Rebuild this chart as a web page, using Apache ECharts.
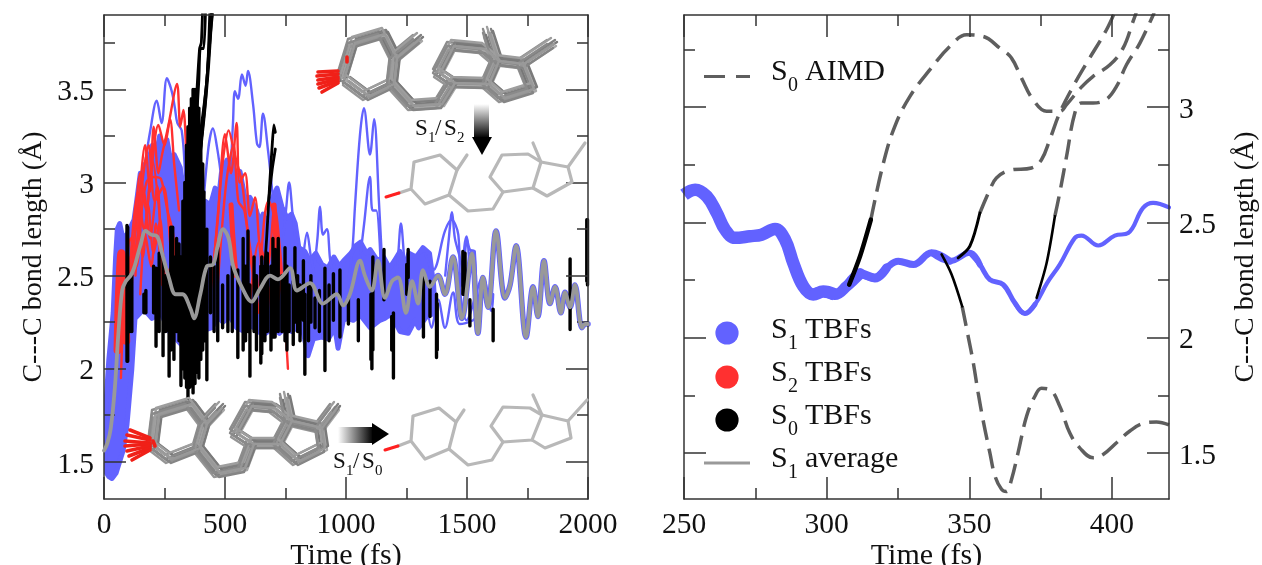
<!DOCTYPE html>
<html><head><meta charset="utf-8">
<style>html,body{margin:0;padding:0;background:#fff}#c{width:1262px;height:565px}</style>
<script src="https://cdn.jsdelivr.net/npm/echarts@6/dist/echarts.min.js"></script>
</head><body><div id="c"></div>
<script>
// ---------- LEFT PANEL DATA (time fs, C--C bond length Å) ----------
const leftXTicks=[0,500,1000,1500,2000];
const leftXMinor=[250,750,1250,1750];
const leftYTicks=[1.5,2,2.5,3,3.5];
const leftYMinor=[1.75,2.25,2.75,3.25,3.75];
const s1BandUpper=[[2,1.5],[10,1.85],[20,2.05],[38,2.3],[48,2.6],[55,2.75],[65,2.78],[78,2.7],[95,2.72],[124,2.8],[135,2.9],[150,3.05],[160,3.0],[170,3.1],[185,3.12],[200,3.2],[215,3.14],[230,3.25],[245,3.16],[260,3.23],[275,3.12],[290,3.15],[315,3.08],[330,2.95],[343,2.9],[360,2.82],[380,2.85],[400,2.8],[417,2.9],[440,2.88],[459,2.97],[475,2.93],[485,3.05],[508,3.12],[520,3.04],[530,3.12],[548,2.98],[562,3.06],[585,2.9],[603,2.92],[630,2.85],[645,2.78],[657,2.83],[675,2.76],[690,2.9],[715,2.97],[735,2.87],[756,2.81],[775,2.83],[790,2.78],[805,2.65],[830,2.63],[850,2.58],[875,2.62],[900,2.56],[925,2.54],[950,2.6],[972,2.55],[990,2.58],[1020,2.62],[1040,2.66],[1060,2.68],[1085,2.62],[1100,2.64],[1130,2.58],[1155,2.6],[1180,2.54],[1200,2.58],[1223,2.63],[1245,2.56],[1260,2.62],[1290,2.6],[1318,2.65],[1345,2.62],[1362,2.45],[1368,2.3]];
const s1BandLower=[[1333,2.28],[1300,2.22],[1285,2.26],[1257,2.19],[1223,2.2],[1200,2.26],[1182,2.29],[1160,2.27],[1140,2.26],[1100,2.22],[1058,2.29],[1030,2.26],[1004,2.27],[989,2.26],[967,2.11],[954,2.22],[927,2.16],[899,2.17],[865,2.16],[843,2.07],[824,2.19],[797,2.22],[775,2.2],[756,2.23],[725,2.19],[700,2.22],[657,2.18],[610,2.23],[580,2.2],[548,2.22],[520,2.28],[492,2.25],[470,2.28],[446,2.22],[400,2.2],[340,2.1],[270,2.2],[235,2.3],[198,2.27],[165,2.32],[128,2.27],[115,2],[95,1.7],[79,1.56],[50,1.44],[33,1.41],[20,1.42],[5,1.45]];
const s1Traces=[
 [[150,2.9],[170,3.1],[190,3.27],[218,3.44],[238,3.32],[260,3.56],[280,3.49],[293,3.4],[303,3.32],[321,3.28],[335,3.05],[350,2.7]],
 [[500,2.7],[520,3],[533,3.32],[541,3.49],[554,3.45],[570,3.58],[585,3.52],[595,3.6],[616,3.42],[632,3.21],[642,3.19],[657,3.37],[678,3.17],[694,2.97],[715,2.7]],
 [[400,2.7],[430,3.17],[450,3.29],[467,3.19],[487,3],[510,2.7]],
 [[740,2.7],[752,2.85],[765,3],[780,2.82],[795,2.65]],
 [[870,2.55],[882,2.7],[893,2.87],[905,2.72],[921,2.75],[935,2.58],[950,2.5]],
 [[820,2.55],[839,2.73],[855,2.6],[870,2.5]],
 [[1000,2.4],[1025,2.62],[1037,2.87],[1058,3.26],[1074,3.4],[1099,3.15],[1116,3.34],[1136,2.9],[1150,2.55]],
 [[1050,2.5],[1075,2.78],[1099,3.03],[1110,2.85],[1125,2.85],[1145,2.5]],
 [[1205,2.45],[1215,2.6],[1227,2.78],[1240,2.6],[1250,2.45]],
 [[1410,2.5],[1425,2.7],[1438,2.84],[1450,2.7],[1470,2.6],[1485,2.5]],
 [[1490,2.6],[1500,2.7],[1510,2.55]],
 [[1326,2.62],[1360,2.53],[1409,2.74],[1436,2.8],[1464,2.72],[1473,2.44],[1498,2.71],[1512,2.64],[1532,2.63],[1540,2.19]],
 [[1326,2.45],[1354,2.22],[1381,2.37],[1409,2.22],[1443,2.41],[1470,2.24],[1525,2.26],[1545,2.3]],
 [[1464,2.51],[1498,2.26],[1566,2.49],[1601,2.31],[1608,2.4]]
];
const s2Traces=[
 [[60,2.1],[90,2.5],[120,2.65],[140,2.85],[170,3.2],[190,2.95],[205,3.3],[225,3.05],[240,3.15],[265,3.3],[302,3.53],[315,3.3],[328,3.39],[345,3.05],[365,2.85]],
 [[100,2.4],[140,2.95],[165,2.75],[190,3],[225,3.31],[250,3.2],[273,3.34],[290,3.1],[310,2.85]],
 [[110,2.5],[145,2.75],[175,3],[205,3.03],[235,3.02],[262,2.85],[285,2.73],[300,2.45]],
 [[70,1.95],[85,2.4],[110,2.7],[135,2.55],[165,2.95],[190,2.7],[220,2.98],[240,2.6],[270,2.35]],
 [[90,2.2],[120,2.6],[150,3.05],[175,2.85],[200,3.12],[228,2.85],[250,2.45],[265,2.3]],
 [[130,2.5],[150,2.9],[185,3.2],[210,2.9],[245,2.98],[275,2.65],[295,2.35]],
 [[115,2.45],[135,2.78],[160,2.6],[182,2.88],[205,2.62],[232,2.8],[255,2.5],[280,2.55],[300,2.3]],
 [[150,2.4],[170,2.72],[195,2.55],[215,2.78],[240,2.45]],
 [[440,2.4],[470,2.8],[500,3.26],[525,3.05],[548,3.32],[560,3],[583,3.05],[603,2.82],[624,2.92],[640,2.7],[665,2.35]],
 [[450,2.5],[490,3.1],[515,3.28],[540,3.15],[570,3],[590,2.78],[620,2.5],[640,2.3]],
 [[470,2.45],[505,3],[535,3.2],[555,2.9],[580,2.85],[610,2.55],[630,2.35]],
 [[640,2.4],[662,2.8],[680,2.9],[698,2.85],[720,2.6],[745,2.3],[760,2]],
 [[600,2.3],[640,2.68],[675,2.55],[705,2.87],[730,2.6],[748,2.25]],
 [[670,2.2],[690,2.45],[710,2.3],[730,2.45],[750,2.2]]
];
const s2Thick=[[[56,2.1],[62,2.4],[72,2.62],[84,2.4],[92,2.15]],[[525,2.88],[532,2.72],[545,2.5]],[[703,2.88],[710,2.7],[725,2.5]]];
const s0SpikeT=[95,98,107,115,165,173,205,215,228,244,255,269,276,280,284,289,300,310,318,326,334,341,347,354,361,368,376,384,392,400,408,413,425,440,455,470,490,512,530,553,575,585,595,603,620,630,648,652,665,675,690,698,707,720,735,748,756,765,782,789,800,810,824,830,845,855,872,890,913,930,948,975,1010,1051,1103,1107,1111,1157,1189,1196,1251,1257,1320,1347,1374,1377,1483,1492,1512,1608,1926,1995,1998];
const s0SpikeLow=[2.04,2.04,2.2,2.2,2.3,2.3,2.3,2.12,2.2,2.07,2.2,1.96,2.1,2.15,2.15,2.05,2.2,2.15,1.91,2.0,1.95,1.9,1.84,1.9,1.93,1.87,1.92,1.98,1.95,2.05,2.1,2.15,1.94,2.3,2.2,2.15,2.22,2.2,2.2,2.06,2.1,2.15,2.2,1.96,2.2,2.1,2.03,2.08,2.15,2.2,2.1,2.17,2.17,2.2,2.2,2.15,2.1,2.2,2.13,2.25,2.2,2.15,2.26,1.97,2.15,2.25,2.22,2.2,1.99,2.15,2.26,2.17,2.24,2.15,2.05,2.0,2.1,2.37,2.1,1.95,2.4,2.49,2.17,2.28,2.06,2.1,2.4,2.4,2.23,2.15,2.21,2.47,2.45];
const s0SpikeHigh=[2.77,2.76,2.5,2.5,2.4,2.42,2.55,2.54,2.62,2.6,2.5,2.5,2.76,2.76,2.76,2.6,2.7,2.67,2.6,2.9,3,3.2,3.3,3.4,3.45,3.5,3.5,3.45,3.4,3.3,3.1,2.95,2.75,2.6,2.55,2.65,2.45,2.5,2.55,2.53,2.7,2.55,2.74,2.45,2.6,2.5,2.55,2.6,2.55,2.62,2.55,2.7,2.64,2.7,2.5,2.65,2.55,2.45,2.47,2.65,2.5,2.45,2.58,2.4,2.45,2.5,2.38,2.42,2.54,2.45,2.51,2.53,2.38,2.37,2.4,2.4,2.6,2.64,2.28,2.3,2.56,2.64,2.5,2.47,2.4,2.35,2.63,2.62,2.37,2.32,2.59,2.8,2.8];
const s0Rising=[
 [[330,2.3],[350,2.7],[365,3],[380,3.4],[395,3.72],[402,3.75],[408,3.95]],
 [[340,2.3],[358,2.8],[378,3.25],[392,3.55],[398,3.72],[412,3.72],[420,3.95]],
 [[350,2.4],[370,2.8],[392,3.2],[412,3.4],[425,3.55],[440,3.8],[452,3.95]],
 [[355,2.4],[375,2.8],[400,3.2],[420,3.45],[430,3.65],[445,3.95]],
 [[360,2.5],[385,2.95],[410,3.35],[428,3.6],[438,3.95]],
 [[365,2.6],[390,3.05],[416,3.38],[432,3.62],[448,3.95]],
 [[657,2.4],[672,2.7],[685,3],[695,3.2],[702,3.31],[708,3.27]],
 [[680,2.9],[695,3.07],[708,3.18]]
];
const s1Average=[[0,1.56],[14,1.6],[28,1.68],[45,1.9],[60,2.2],[75,2.42],[90,2.47],[110,2.5],[124,2.54],[152,2.67],[172,2.74],[195,2.72],[220,2.71],[240,2.62],[268,2.49],[296,2.4],[324,2.4],[358,2.32],[372,2.27],[398,2.4],[425,2.55],[451,2.56],[470,2.66],[492,2.75],[515,2.7],[534,2.55],[569,2.44],[610,2.36],[645,2.43],[686,2.5],[719,2.48],[769,2.54],[797,2.42],[851,2.46],[905,2.35],[962,2.4],[988,2.34],[1016,2.4],[1058,2.58],[1078,2.5],[1107,2.42],[1132,2.58],[1161,2.38],[1190,2.47],[1215,2.49],[1248,2.3],[1273,2.47],[1298,2.35],[1318,2.53],[1347,2.44],[1380,2.5],[1409,2.4],[1442,2.6],[1479,2.27],[1520,2.62],[1545,2.19],[1566,2.49],[1587,2.33],[1620,2.74],[1657,2.38],[1678,2.45],[1703,2.66],[1744,2.17],[1773,2.44],[1793,2.28],[1818,2.58],[1843,2.35],[1864,2.44],[1888,2.3],[1905,2.41],[1926,2.33],[1946,2.45],[1975,2.22],[1988,2.24],[2000,2.24]];

// ---------- RIGHT PANEL DATA ----------
const rightXTicks=[250,300,350,400];
const rightXMinor=[275,325,375];
const rightYTicks=[1.5,2,2.5,3];
const rightYMinor=[1.75,2.25,2.75,3.25];
const s1Tbf=[[250,2.62],[253.9,2.642],[258,2.613],[261.5,2.541],[264.4,2.469],[267.9,2.433],[273.1,2.44],[277.2,2.447],[281.9,2.472],[285.4,2.426],[288.3,2.324],[291.8,2.223],[295.3,2.187],[298.8,2.2],[302.9,2.187],[307,2.223],[311.7,2.278],[316.9,2.259],[321,2.303],[325.1,2.332],[330.4,2.317],[336.8,2.368],[343.2,2.332],[350.2,2.368],[353.7,2.317],[357.2,2.252],[361.9,2.23],[366,2.15],[369.5,2.105],[373,2.144],[377.3,2.238],[381.7,2.317],[387,2.433],[389.3,2.443],[395.2,2.4],[401,2.443],[405.7,2.454],[410.9,2.563],[414.4,2.585],[420,2.565]];
const s0TbfA=[[307.9,2.23],[311.7,2.353],[315.5,2.512]];
const s0TbfB=[[346.1,2.346],[350.2,2.397],[353.7,2.541]];
const s0TbfC=[[373.6,2.173],[377.1,2.324],[380,2.527]];
const s0TbfD=[[340.3,2.361],[343.8,2.274],[347.5,2.136]];
const aimdA=[[315.5,2.512],[319.9,2.758],[323.9,2.917],[329.2,3.047],[336.2,3.163],[343.2,3.264],[349.1,3.314],[354.9,3.307],[360.7,3.256],[364.8,3.213],[368.3,3.126],[372.4,3.032],[377.1,2.982],[381.7,2.982],[384.1,3.011],[389.3,3.087],[393.4,3.134],[399.3,3.184],[403.9,3.256],[407.4,3.372],[408.5,3.41]];
const aimdB=[[353.7,2.541],[357.2,2.642],[359.5,2.693],[364.2,2.726],[371.8,2.736],[375.3,2.772],[378.2,2.859],[381.7,2.975],[386.4,3.09],[391.1,3.191],[398.1,3.336],[400.9,3.41]];
const aimdC=[[380,2.527],[381.7,2.628],[384.1,2.787],[387,2.975],[389.3,3.018],[393.4,3.018],[398.1,3.035],[401.6,3.09],[405.1,3.184],[409.8,3.278],[414.8,3.41]];
const aimdD=[[347.5,2.136],[349.6,2.006],[351.4,1.891],[353.1,1.761],[354.9,1.638],[357.2,1.501],[359,1.4],[361.3,1.342],[363,1.332],[364.8,1.385],[367.1,1.501],[370.1,1.66],[373,1.746],[375.3,1.78],[378.2,1.775],[381.7,1.703],[385.2,1.587],[388.7,1.522],[393.4,1.479],[396.9,1.493],[401.6,1.544],[406.3,1.595],[411,1.628],[415.6,1.634],[420,1.621]];

// ---------- STYLE ----------
const SERIF='"Liberation Serif","Times New Roman",serif';
const INK='#111', FRAME='#333', BLUE='#6262ff', RED='#ff3030', GREY='#999999', DASH='#5e5e5e';
const blueSteps=[[250,300,12.5],[300,309,11],[309,316,9],[316,340,7],[340,350,6],[350,370,5],[370,420,4.2]];

const G=[{left:104,top:15,width:484,height:484,outerBoundsMode:'none',containLabel:false},{left:684,top:15,width:485,height:484,outerBoundsMode:'none',containLabel:false}];
const xAxes=[],yAxes=[];
function ax(gi,pos,min,max,vals,len,line,margin,name,gap,nameSize){
  const isY=(pos==='left'||pos==='right');
  const o={type:'value',gridIndex:gi,position:pos,min:min,max:max,z:6,silent:true,
    axisLine:{show:line,onZero:false,lineStyle:{color:FRAME,width:1.5}},
    axisTick:{show:true,inside:true,length:len,customValues:vals,lineStyle:{color:FRAME,width:1.5}},
    splitLine:{show:false},minorTick:{show:false},
    axisLabel:margin?{show:true,customValues:vals,margin:margin,color:INK,fontFamily:SERIF,fontSize:29.5,showMinLabel:true,showMaxLabel:true,
      formatter:function(v){return isY?'{a|'+v+'}':String(v)},
      rich:{a:{color:INK,fontFamily:SERIF,fontSize:29.5,padding:[6,0,0,0]}}}:{show:false}};
  if(name){o.name=name;o.nameLocation='middle';o.nameGap=gap;o.nameMoveOverlap=false;o.nameTextStyle={color:INK,fontFamily:SERIF,fontSize:nameSize};}
  return o;
}
function panel(gi,xr,yr,xt,xm,yt,ym,ySide,yName,yGap){
  const other=ySide==='left'?'right':'left';
  xAxes.push(ax(gi,'bottom',xr[0],xr[1],xt,22,true,11,'Time (fs)',42,30));
  xAxes.push(ax(gi,'bottom',xr[0],xr[1],xm,11,false,0));
  xAxes.push(ax(gi,'top',xr[0],xr[1],xt,22,true,0));
  xAxes.push(ax(gi,'top',xr[0],xr[1],xm,11,false,0));
  yAxes.push(ax(gi,ySide,yr[0],yr[1],yt,22,true,10,yName,yGap,28));
  yAxes.push(ax(gi,ySide,yr[0],yr[1],ym,11,false,0));
  yAxes.push(ax(gi,other,yr[0],yr[1],yt,22,true,0));
  yAxes.push(ax(gi,other,yr[0],yr[1],ym,11,false,0));
}
panel(0,[0,2000],[1.3,3.9],leftXTicks,leftXMinor,leftYTicks,leftYMinor,'left','C---C bond length (Å)',56);
panel(1,[250,420],[1.3,3.4],rightXTicks,rightXMinor,rightYTicks,rightYMinor,'right','C---C bond length (Å)',63);

const series=[];
function line(idx,data,color,width,extra){
  series.push(Object.assign({type:'line',xAxisIndex:idx,yAxisIndex:idx,data:data,showSymbol:false,silent:true,
    lineStyle:{color:color,width:width,cap:'round',join:'round'},clip:true,z:3,animation:false},extra||{}));
}
// S1 band through the axis scales
series.push({type:'custom',xAxisIndex:0,yAxisIndex:0,data:[0],silent:true,z:2,clip:true,
  renderItem:function(p,api){
    const pts=s1BandUpper.concat(s1BandLower).map(function(d){return api.coord(d)});
    return {type:'polygon',shape:{points:pts},style:{fill:BLUE,stroke:BLUE,lineWidth:5,lineJoin:'round'}};
  }});
s1Traces.forEach(function(t){line(0,t,BLUE,2.4,{smooth:0.35})});
// blue underlay of the late single S1 trace
line(0,s1Average.filter(function(d){return d[0]>=1340}),BLUE,5.5,{smooth:0.35});
s2Traces.forEach(function(t){line(0,t,RED,2.4,{smooth:0.3,z:4})});
s2Thick.forEach(function(t,i){line(0,t,RED,i===0?8:5,{smooth:0.3,z:4})});
const spikes=[];
s0SpikeT.forEach(function(t,i){spikes.push([t,s0SpikeHigh[i]],[t,s0SpikeLow[i]],[t,null])});
line(0,spikes,'#000',3.4,{z:5,connectNulls:false});
s0Rising.forEach(function(t){line(0,t,'#000',2.8,{z:5,smooth:0.2})});
line(0,s1Average,GREY,3.8,{z:7,smooth:0.35});

// Right panel
blueSteps.forEach(function(b,i){
  const seg=s1Tbf.filter(function(d){return d[0]>=b[0]-6&&d[0]<=b[1]+6});
  line(4,seg,BLUE,b[2],{smooth:0.4,z:3,lineStyle:{color:BLUE,width:b[2],cap:i===0?'butt':'round',join:'round'}});
});
[aimdA,aimdB,aimdC,aimdD].forEach(function(d){
  series.push({type:'line',xAxisIndex:4,yAxisIndex:4,data:d,showSymbol:false,silent:true,smooth:0.4,clip:true,z:4,animation:false,
    lineStyle:{color:DASH,width:3.5,type:[20,9]}});
});
[[s0TbfA,4.5],[s0TbfB,3],[s0TbfC,2.6],[s0TbfD,2.6]].forEach(function(a){line(4,a[0],'#000',a[1],{smooth:0.3,z:5})});

// ---------- Annotations (graphic) ----------
const gfx=[];
function txt(x,y,s,size){gfx.push({type:'text',z:20,silent:true,x:x,y:y,style:{text:s,fill:INK,font:size+'px '+SERIF,verticalAlign:'bottom'}})}
function dot(cy,color){gfx.push({type:'circle',z:20,silent:true,shape:{cx:727,cy:cy,r:11.6},style:{fill:color}})}
function legendLabel(base,sub,rest){txt(771,base+7,'S',30);txt(788,base+16,sub,20);txt(805,base+7,rest,30)}
dot(333,BLUE);dot(377,RED);dot(420,'#000');
legendLabel(338,'1','TBFs');legendLabel(381,'2','TBFs');legendLabel(424,'0','TBFs');legendLabel(467,'1','average');
legendLabel(80,'0','AIMD');
gfx.push({type:'line',z:20,silent:true,shape:{x1:704,y1:463,x2:750,y2:463},style:{stroke:GREY,lineWidth:3}});
gfx.push({type:'line',z:20,silent:true,shape:{x1:704,y1:76.5,x2:725,y2:76.5},style:{stroke:DASH,lineWidth:3}});
gfx.push({type:'line',z:20,silent:true,shape:{x1:736,y1:76.5,x2:750,y2:76.5},style:{stroke:DASH,lineWidth:3}});
// S1/S2, S1/S0 captions
function cap(x,base,a,b){txt(x,base+6,'S',23);txt(x+13,base+12,a,15);txt(x+20,base+6,'/',23);txt(x+29,base+6,'S',23);txt(x+42,base+12,b,15)}
cap(415,134,'1','2');cap(333,467,'1','0');
// arrows
gfx.push({type:'rect',z:20,silent:true,shape:{x:474,y:104,width:15,height:34},style:{fill:new echarts.graphic.LinearGradient(0,0,0,1,[{offset:0,color:'#ffffff'},{offset:1,color:'#000000'}])}});
gfx.push({type:'polygon',z:20,silent:true,shape:{points:[[472,137],[492,137],[482,155]]},style:{fill:'#000'}});
gfx.push({type:'rect',z:20,silent:true,shape:{x:338,y:427,width:35,height:16},style:{fill:new echarts.graphic.LinearGradient(0,0,1,0,[{offset:0,color:'#ffffff'},{offset:1,color:'#000000'}])}});
gfx.push({type:'polygon',z:20,silent:true,shape:{points:[[372,423],[372,445],[389,434]]},style:{fill:'#000'}});
// Molecule drawings
function poly(pts,stroke,w){gfx.push({type:'polyline',z:19,silent:true,shape:{points:pts},style:{stroke:stroke,lineWidth:w,fill:null,lineJoin:'round',lineCap:'round'}})}
const skeletonTop=[
 [[399,193],[411,189],[414,162],[440,155],[457,170],[449,195],[425,204],[411,189]],
 [[457,170],[467,155]],
 [[449,195],[468,211],[493,209],[503,192]],
 [[503,192],[490,177],[502,155],[528,154],[541,162],[533,188],[503,192]],
 [[541,162],[533,143]],[[541,162],[568,167],[572,182],[547,196],[533,188]],[[568,167],[585,143]]
];
const skeletonBottom=[
 [[398,446],[411,441],[413,416],[439,408],[456,422],[449,449],[425,459],[411,441]],
 [[456,422],[464,410]],[[449,449],[468,465],[492,460],[503,442]],
 [[503,442],[491,426],[503,407],[530,408],[542,415],[532,440],[503,442]],
 [[542,415],[533,395]],[[542,415],[568,421],[571,438],[545,448],[532,440]],[[568,421],[587,400]]
];
skeletonTop.forEach(function(p){poly(p,'#b8b8b8',3.2)});
skeletonBottom.forEach(function(p){poly(p,'#b8b8b8',3.2)});
gfx.push({type:'line',z:19,silent:true,shape:{x1:386,y1:197,x2:399,y2:193},style:{stroke:'#ff2020',lineWidth:3,lineCap:'round'}});
gfx.push({type:'line',z:19,silent:true,shape:{x1:385,y1:450,x2:398,y2:446},style:{stroke:'#ff2020',lineWidth:3,lineCap:'round'}});
const bundleShift=[[-5,-3],[-2,3],[0,0],[3,-3],[4,3],[5,-1],[-4,5],[1,5],[-1,-5],[-5,1],[2,1]];
const bundleTones=['#8c8c8c','#777777','#a0a0a0','#808080','#a8a8a8','#7a7a7a','#959595','#858585','#9e9e9e','#8a8a8a','#999999'];
const bundleTop=[
 [[342,78],[353,42],[383,33],[395,57],[392,83],[367,95],[347,80]],
 [[395,57],[418,38]],[[392,83],[412,105],[440,103],[453,82]],
 [[453,82],[438,72],[452,45],[483,48],[497,60],[487,83],[453,82]],
 [[497,60],[488,32]],[[497,60],[522,63],[532,88],[503,97],[487,83]],[[522,63],[552,43]]
];
const bundleBottom=[
 [[153,445],[157,413],[190,403],[205,423],[198,447],[170,458],[153,445]],
 [[205,423],[220,407]],[[198,447],[218,472],[243,467],[252,443]],
 [[252,443],[235,432],[250,405],[273,407],[290,420],[278,443],[252,443]],
 [[290,420],[285,397]],[[290,420],[320,427],[323,447],[297,460],[278,443]],[[320,427],[335,407]]
];
function bundle(set,red){
  bundleShift.forEach(function(s,i){
    set.forEach(function(p){poly(p.map(function(q){return [q[0]+s[0],q[1]+s[1]]}),bundleTones[i],2.4)});
  });
  red.forEach(function(r){gfx.push({type:'line',z:20,silent:true,shape:{x1:r[0],y1:r[1],x2:r[2],y2:r[3]},style:{stroke:'#f02018',lineWidth:3.6,lineCap:'round'}})});
}
bundle(bundleTop,[[318,72,338,71],[317,76,338,74],[318,80,338,77],[318,84,338,79],[319,88,338,81],[322,92,338,83],[347,57,347,62]]);
bundle(bundleBottom,[[130,430,150,438],[127,435,150,440],[125,441,150,443],[125,446,150,444],[127,451,150,446],[129,456,150,448],[132,460,150,450],[153,441,155,446]]);

const chart=echarts.init(document.getElementById('c'),null,{renderer:'canvas'});
chart.setOption({animation:false,backgroundColor:'#fff',grid:G,xAxis:xAxes,yAxis:yAxes,series:series,graphic:{elements:gfx}});
</script>
</body></html>
